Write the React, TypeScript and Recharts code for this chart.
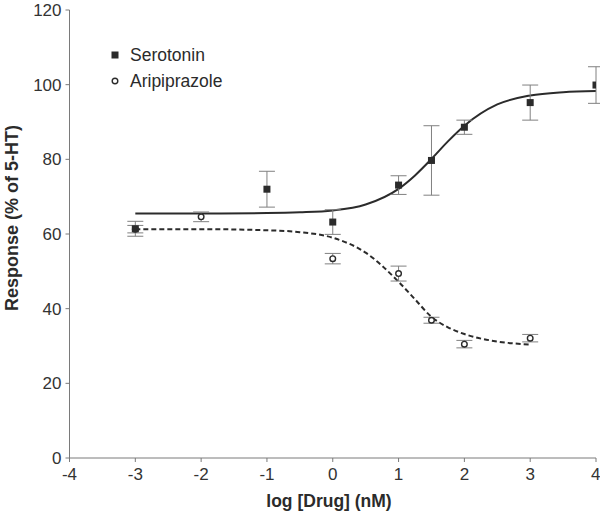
import React from "react";
import {
  ComposedChart,
  Line,
  Scatter,
  ErrorBar,
  XAxis,
  YAxis,
} from "recharts";

// measured points (mean ± SEM)
const serotoninX = [-3, -1, 0, 1, 1.5, 2, 3, 4];
const serotoninY = [61.4, 72.0, 63.2, 73.1, 79.7, 88.6, 95.2, 99.9];
const serotoninErr = [2.0, 4.8, 3.3, 2.5, 9.3, 1.9, 4.7, 4.9];

const aripX = [-3, -2, 0, 1, 1.5, 2, 3];
const aripY = [61.3, 64.6, 53.4, 49.4, 36.9, 30.5, 32.1];
const aripErr = [1.0, 1.3, 1.4, 2.0, 0.8, 1.0, 1.0];

// fitted curves
const serotoninFitX = [-3, -2, -1, -0.5, 0, 0.5, 1, 1.25, 1.5, 1.75, 2, 2.5, 3, 3.5, 4];
const serotoninFitY = [65.5, 65.5, 65.6, 65.8, 66.3, 67.9, 72.1, 75.7, 80.1, 84.8, 89.0, 94.7, 97.1, 98.0, 98.3];
const aripFitX = [-3, -2, -1, -0.5, 0, 0.5, 1, 1.25, 1.5, 1.75, 2, 2.5, 3];
const aripFitY = [61.3, 61.3, 61.0, 60.5, 59.0, 55.0, 47.2, 42.5, 37.8, 35.0, 33.2, 31.2, 30.4];

const xTicks = [-4, -3, -2, -1, 0, 1, 2, 3, 4];
const yTicks = [0, 20, 40, 60, 80, 100, 120];
const seriesNames = ["Serotonin", "Aripiprazole"];

const zip = (xs: number[], ys: number[], es?: number[]) =>
  xs.map((x, i) => ({ x, y: ys[i], err: es ? es[i] : 0 }));

const serotonin = zip(serotoninX, serotoninY, serotoninErr);
const arip = zip(aripX, aripY, aripErr);
const serotoninFit = zip(serotoninFitX, serotoninFitY);
const aripFit = zip(aripFitX, aripFitY);

const FONT = '"Liberation Sans", Arial, Helvetica, sans-serif';
const AXIS = "#7a7a7a";
const INK = "#2b2b2b";

const Square = (p: any) => (
  <rect x={p.cx - 3.5} y={p.cy - 3.5} width={7} height={7} fill={INK} />
);
const OpenCircle = (p: any) => (
  <circle cx={p.cx} cy={p.cy} r={2.8} fill="#fff" stroke={INK} strokeWidth={1.4} />
);

export default function App() {
  return (
    <div style={{ position: "absolute", left: 0, top: 0, background: "#fff" }}>
      <ComposedChart
        width={600}
        height={511}
        margin={{ top: 10, right: 4, bottom: 0, left: 0 }}
        style={{ fontFamily: FONT }}
      >
        <XAxis
          type="number"
          dataKey="x"
          domain={[-4, 4]}
          ticks={xTicks}
          allowDataOverflow
          height={53}
          stroke={AXIS}
          tickSize={4}
          tickMargin={6}
          tick={{ fill: "#333", fontSize: 17 }}
        />
        <YAxis
          type="number"
          dataKey="y"
          domain={[0, 120]}
          ticks={yTicks}
          width={69.5}
          stroke={AXIS}
          tickSize={4}
          tickMargin={4}
          tick={{ fill: "#333", fontSize: 17 }}
        />
        <Line
          data={aripFit}
          dataKey="y"
          type="monotone"
          stroke={INK}
          strokeWidth={2}
          strokeDasharray="5 3"
          dot={false}
          activeDot={false}
          legendType="none"
          isAnimationActive={false}
        />
        <Line
          data={serotoninFit}
          dataKey="y"
          type="monotone"
          stroke={INK}
          strokeWidth={2}
          dot={false}
          activeDot={false}
          legendType="none"
          isAnimationActive={false}
        />
        <Scatter
          name="Aripiprazole"
          data={arip}
          dataKey="y"
          shape={OpenCircle}
          isAnimationActive={false}
        >
          <ErrorBar dataKey="err" direction="y" width={8} stroke="#808080" strokeWidth={1} />
        </Scatter>
        <Scatter
          name="Serotonin"
          data={serotonin}
          dataKey="y"
          shape={Square}
          isAnimationActive={false}
        >
          <ErrorBar dataKey="err" direction="y" width={8} stroke="#808080" strokeWidth={1} />
        </Scatter>

        {/* legend */}
        <rect x={111.5} y={51.5} width={7} height={7} fill={INK} />
        <text x={130} y={55} dominantBaseline="central" fontFamily={FONT} fontSize={17.5} fill={INK}>
          {seriesNames[0]}
        </text>
        <circle cx={115} cy={81} r={2.8} fill="#fff" stroke={INK} strokeWidth={1.4} />
        <text x={130} y={81} dominantBaseline="central" fontFamily={FONT} fontSize={17.5} fill={INK}>
          {seriesNames[1]}
        </text>

        {/* axis titles */}
        <text
          x={12}
          y={218}
          transform="rotate(-90 12 218)"
          textAnchor="middle"
          dominantBaseline="central"
          fontFamily={FONT}
          fontSize={18}
          fontWeight="bold"
          fill={INK}
        >
          Response (% of 5-HT)
        </text>
        <text
          x={329}
          y={501}
          textAnchor="middle"
          dominantBaseline="central"
          fontFamily={FONT}
          fontSize={17.5}
          fontWeight="bold"
          fill={INK}
        >
          log [Drug] (nM)
        </text>
      </ComposedChart>
    </div>
  );
}
